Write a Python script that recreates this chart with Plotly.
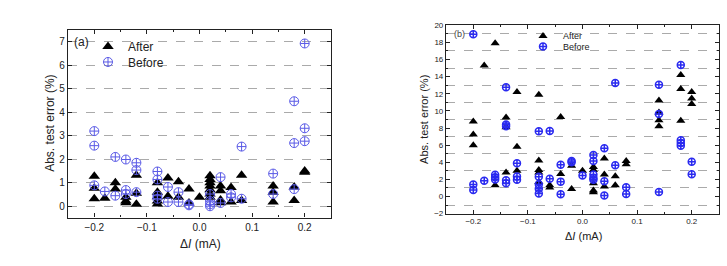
import plotly.graph_objects as go

# ---------------- Panel (a) data ----------------
a_after_x = [-0.2, -0.2, -0.2, -0.18, -0.16, -0.16, -0.14, -0.14, -0.14,
             -0.12, -0.12, -0.12, -0.08, -0.08, -0.08, -0.08, -0.08,
             -0.06, -0.06, -0.04, -0.04, -0.02, -0.02, 0.0,
             0.02, 0.02, 0.02, 0.02, 0.02, 0.02, 0.02,
             0.04, 0.04, 0.04, 0.04, 0.06, 0.06, 0.08, 0.08,
             0.14, 0.14, 0.14, 0.18, 0.18, 0.2, 0.2]
a_after_y = [1.28, 0.77, 0.32, 0.34, 1.0, 0.73, 0.38, 0.22, 0.15,
             1.32, 0.55, 0.08, 1.0, 0.6, 0.4, 0.22, 0.1,
             1.2, 0.43, 1.04, 0.38, 0.73, 0.14, 0.38,
             1.3, 1.14, 1.0, 0.86, 0.7, 0.52, 0.38,
             0.86, 0.66, 0.27, 0.15, 0.8, 0.18, 1.32, 0.25,
             0.86, 0.6, 0.18, 0.82, 0.25, 1.5, 1.45]
a_before_x = [-0.2, -0.2, -0.2, -0.18, -0.16, -0.16, -0.14, -0.14, -0.14,
              -0.12, -0.12, -0.12, -0.08, -0.08, -0.08, -0.08,
              -0.06, -0.06, -0.04, -0.04, -0.02, -0.02,
              0.02, 0.02, 0.02, 0.02, 0.04, 0.04, 0.06, 0.06, 0.08, 0.08,
              0.14, 0.14, 0.18, 0.18, 0.18, 0.2, 0.2, 0.2]
a_before_y = [3.2, 2.58, 0.89, 0.63, 2.1, 0.45, 1.99, 0.69, 0.52,
              1.85, 1.54, 0.6, 1.48, 1.14, 0.45, 0.32,
              0.82, 0.18, 0.6, 0.18, 0.04, 0.08,
              0.52, 0.22, 0.08, 0.0, 1.24, 0.14, 0.52, 0.38, 2.54, 0.32,
              1.39, 0.52, 4.47, 2.69, 0.73, 6.93, 3.32, 2.77]

# ---------------- Panel (b) data ----------------
b_after_x = [-0.2, -0.2, -0.2, -0.18, -0.16, -0.16, -0.14, -0.14, -0.14,
             -0.12, -0.12, -0.12, -0.08, -0.08, -0.08, -0.08, -0.08,
             -0.06, -0.06, -0.04, -0.04, -0.02, -0.02, 0.0,
             0.02, 0.02, 0.02, 0.02, 0.02, 0.04, 0.04, 0.04,
             0.06, 0.06, 0.08, 0.08, 0.14, 0.14, 0.14, 0.14,
             0.18, 0.18, 0.18, 0.2, 0.2, 0.2]
b_after_y = [8.75, 7.25, 6.0, 15.3, 17.9, 1.33, 9.24, 8.1, 2.8,
             12.2, 5.8, 3.0, 11.9, 4.2, 3.1, 2.8, 1.7,
             1.33, 1.06, 9.3, 2.64, 3.6, 0.88, 3.0,
             3.45, 3.1, 1.55, 0.7, 0.5, 4.44, 2.56, 1.17,
             2.38, 1.33, 4.14, 3.76, 11.2, 9.8, 8.9, 8.2,
             14.2, 12.57, 8.85, 12.2, 11.45, 10.8]
b_before_x = [-0.2, -0.2, -0.2, -0.18, -0.16, -0.16, -0.16,
              -0.14, -0.14, -0.14, -0.14, -0.14, -0.12, -0.12, -0.12,
              -0.08, -0.08, -0.08, -0.08, -0.08, -0.06, -0.06,
              -0.04, -0.04, -0.04, -0.02, -0.02, 0.0,
              0.02, 0.02, 0.02, 0.02, 0.02, 0.04, 0.04, 0.04,
              0.06, 0.06, 0.08, 0.08, 0.14, 0.14, 0.14,
              0.18, 0.18, 0.18, 0.18, 0.2, 0.2]
b_before_y = [18.95, 1.4, 0.76, 1.85, 2.55, 2.26, 2.0,
              12.76, 8.4, 8.2, 1.9, 1.55, 3.9, 2.34, 1.96,
              7.62, 2.3, 1.44, 0.9, 0.36, 7.66, 2.08,
              3.7, 1.74, 0.28, 4.14, 3.99, 2.45,
              4.85, 4.14, 2.56, 2.15, 1.96, 5.64, 1.78, 0.13,
              13.25, 3.64, 1.07, 0.3, 13.06, 9.65, 0.54,
              15.35, 6.58, 6.24, 5.94, 4.06, 2.6]

FONT = "Liberation Sans, Arial, sans-serif"
W, H = 727, 266

fig = go.Figure()

fig.add_trace(go.Scatter(x=a_after_x, y=a_after_y, mode="markers", name="After",
                         marker=dict(symbol="triangle-up", size=10, color="black"),
                         xaxis="x", yaxis="y", legend="legend"))
fig.add_trace(go.Scatter(x=a_before_x, y=a_before_y, mode="markers", name="Before",
                         marker=dict(symbol="circle-cross-open", size=9, color="#5a5ae6",
                                     line=dict(width=1, color="#5a5ae6")),
                         xaxis="x", yaxis="y", legend="legend2"))
fig.add_trace(go.Scatter(x=b_after_x, y=b_after_y, mode="markers", name="After",
                         marker=dict(symbol="triangle-up", size=8, color="black"),
                         xaxis="x2", yaxis="y2", legend="legend3"))
fig.add_trace(go.Scatter(x=b_before_x, y=b_before_y, mode="markers", name="Before",
                         marker=dict(symbol="circle-cross-open", size=7, color="#2a2af0",
                                     line=dict(width=1.5, color="#2a2af0")),
                         xaxis="x2", yaxis="y2", legend="legend4"))

axis_common = dict(showline=True, mirror="ticks", linecolor="#222", linewidth=1.2,
                   ticks="inside", ticklen=4, tickcolor="#222", zeroline=False)

def px_x(a, b):
    return [a / W, b / W]

def px_y(top, bottom):
    return [(H - bottom) / H, (H - top) / H]

def leg(xpx, ypx, size):
    return dict(x=xpx / W, y=1 - ypx / H, xanchor="left", yanchor="middle",
                bgcolor="rgba(0,0,0,0)", borderwidth=0, font=dict(size=size, color="#222"),
                itemsizing="trace", itemwidth=30)

fig.update_layout(
    width=W, height=H, margin=dict(l=0, r=0, t=0, b=0),
    paper_bgcolor="white", plot_bgcolor="white",
    font=dict(family=FONT, color="#222"),
    xaxis=dict(domain=px_x(68, 331), range=[-0.25, 0.25], dtick=0.1, tick0=0,
               tickformat=".1f", showgrid=False, tickfont=dict(size=10),
               minor=dict(dtick=0.05, ticks="inside", ticklen=2, tickcolor="#222"),
               anchor="y", **axis_common),
    yaxis=dict(domain=px_y(27, 221), range=[-0.48, 7.5], dtick=1, tick0=0,
               showgrid=True, gridcolor="#aaa", griddash="dash", gridwidth=0.8,
               tickfont=dict(size=10), anchor="x", **axis_common),
    xaxis2=dict(domain=px_x(446, 719), range=[-0.25, 0.25], dtick=0.1, tick0=0,
                tickformat=".1f", showgrid=False, tickfont=dict(size=8),
                minor=dict(dtick=0.05, ticks="inside", ticklen=2, tickcolor="#222"),
                anchor="y2", **axis_common),
    yaxis2=dict(domain=px_y(22, 217), range=[-2, 20], dtick=2, tick0=0,
                showgrid=False, tickfont=dict(size=8),
                minor=dict(dtick=1, tick0=0, ticks="inside", ticklen=2, tickcolor="#222",
                           showgrid=True, gridcolor="#aaa", griddash="dash", gridwidth=0.8),
                anchor="x2", **axis_common),
    legend=leg(88, 44, 12),
    legend2=leg(88, 60, 12),
    legend3=leg(523, 33, 9),
    legend4=leg(523, 44, 9),
    showlegend=True,
)

ann = [
    dict(text="(a)", x=72 / W, y=1 - 39 / H, xanchor="left", yanchor="middle",
         font=dict(size=12)),
    dict(text="(b)", x=452 / W, y=1 - 31 / H, xanchor="left", yanchor="middle",
         font=dict(size=9, color="#444")),
    dict(text="Δ<i>I</i> (mA)", x=200 / W, y=1 - 248 / H, xanchor="center", yanchor="middle",
         font=dict(size=12)),
    dict(text="Abs. test error (%)", x=50 / W, y=1 - 124 / H, xanchor="center", yanchor="middle",
         textangle=-90, font=dict(size=12)),
    dict(text="Δ<i>I</i> (mA)", x=583 / W, y=1 - 240 / H, xanchor="center", yanchor="middle",
         font=dict(size=11)),
    dict(text="Abs. test error (%)", x=424 / W, y=1 - 120 / H, xanchor="center", yanchor="middle",
         textangle=-90, font=dict(size=11)),
]
for a in ann:
    a.update(xref="paper", yref="paper", showarrow=False)
fig.update_layout(annotations=ann)

fig.write_html("out.html")
